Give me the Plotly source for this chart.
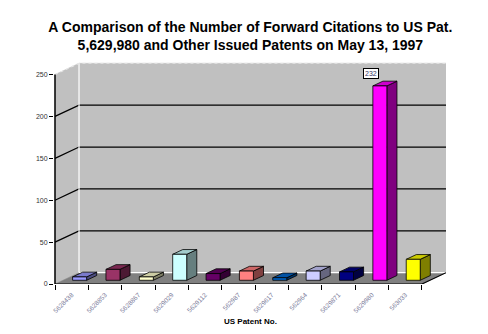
import plotly.graph_objects as go

# Forward citations per patent issued on May 13, 1997
patents = ["5628438", "5628853", "5628867", "5629029", "5629112", "562987",
           "5629617", "562964", "5629871", "5629980", "563033"]
citations = [4, 13, 4, 31, 8, 11, 3, 11, 10, 232, 25]
front_colors = ["#9999FF", "#993366", "#FFFFCC", "#CCFFFF", "#660066", "#FF8080",
                "#0066CC", "#CCCCFF", "#000080", "#FF00FF", "#FFFF00"]
y_ticks = [0, 50, 100, 150, 200, 250]

# oblique projection parameters (x in category units, y in value units)
DX, DY = 0.72, 13.5          # full depth of the floor / walls
Y_TOP = 250
N = len(patents)
BAR_W = 0.42                 # bar width in category units
BAR_F = 0.33                 # depth fraction where bar front sits
BAR_D = 0.42                 # bar depth fraction


def shade(hex_color, k):
    h = hex_color.lstrip("#")
    r, g, b = (int(h[i:i + 2], 16) for i in (0, 2, 4))
    return "rgb({},{},{})".format(int(r * k), int(g * k), int(b * k))


fig = go.Figure()


def poly(xs, ys, fill, line_color="black", width=0.8):
    fig.add_trace(go.Scatter(
        x=xs + [xs[0]], y=ys + [ys[0]], mode="lines", fill="toself",
        fillcolor=fill, line=dict(color=line_color, width=width),
        hoverinfo="skip", showlegend=False))


def seg(xs, ys, color, width=1.2, dash=None):
    fig.add_trace(go.Scatter(
        x=xs, y=ys, mode="lines", line=dict(color=color, width=width, dash=dash),
        hoverinfo="skip", showlegend=False))


# side wall, back wall and floor
poly([0, DX, DX, 0], [0, DY, Y_TOP + DY, Y_TOP], "#C0C0C0", "#C0C0C0", 0.5)
poly([DX, N + DX, N + DX, DX], [DY, DY, Y_TOP + DY, Y_TOP + DY], "#C0C0C0", "#C0C0C0", 0.5)
poly([0, N, N + DX, DX], [0, 0, DY, DY], "#808080", "#808080", 0.5)

# gridlines running across the side wall and the back wall
for v in y_ticks[1:-1]:
    seg([0, DX, N + DX], [v, v + DY, v + DY], "black", 1.3)

# wall edges
seg([DX, DX], [DY, Y_TOP + DY], "white", 1.2)
seg([DX, N + DX], [DY, DY], "white", 1.2)
seg([0, DX, N + DX], [Y_TOP, Y_TOP + DY, Y_TOP + DY], "#E6E6E6", 1.2, "dot")
seg([0, N, N + DX], [0, 0, DY], "black", 1.2)
seg([0, 0], [0, Y_TOP], "black", 1.5)

# 3-D bars: front face, right side, top
fx, fy = BAR_F * DX, BAR_F * DY
bx, by = BAR_D * DX, BAR_D * DY
for i, (v, c) in enumerate(zip(citations, front_colors)):
    x0 = i + 0.5 - BAR_W / 2 + fx
    x1 = x0 + BAR_W
    y0, y1 = fy, fy + v
    poly([x1, x1 + bx, x1 + bx, x1], [y0, y0 + by, y1 + by, y1], shade(c, 0.5))
    poly([x0, x1, x1 + bx, x0 + bx], [y1, y1, y1 + by, y1 + by], shade(c, 0.8))
    poly([x0, x1, x1, x0], [y0, y0, y1, y1], c)

# value label on the highlighted patent
hi = patents.index("5629980")
fig.add_annotation(
    x=hi + 0.5, y=citations[hi] + fy, text=str(citations[hi]), showarrow=False,
    yshift=12, xshift=-1, font=dict(size=7, color="#333366", family="Liberation Sans"),
    bgcolor="white", bordercolor="black", borderwidth=1, borderpad=1)

fig.add_annotation(
    x=0.5, y=-0.171, xref="paper", yref="paper", yanchor="middle",
    text="<b>US Patent No.</b>",
    showarrow=False, font=dict(size=8, color="black", family="Liberation Sans"))

fig.update_layout(
    width=488, height=334,
    margin=dict(l=54, r=42, t=62, b=50),
    paper_bgcolor="white", plot_bgcolor="white",
    title=dict(
        text="<b>A Comparison of the Number of Forward Citations to US Pat.<br>"
             "5,629,980 and Other Issued Patents on May 13, 1997</b>",
        x=0.513, xanchor="center", y=1 - 32 / 334, yanchor="middle",
        font=dict(size=14, color="black", family="Liberation Sans")),
    xaxis=dict(
        range=[-0.03, N + DX], showgrid=False, zeroline=False, showline=False,
        tickmode="array", tickvals=[i + 0.5 for i in range(N)], ticktext=patents,
        tickangle=-45, ticks="", ticklabelstandoff=5,
        tickfont=dict(size=6.5, color="#7A7A99", family="Liberation Sans"),
        minor=dict(tickmode="array", tickvals=list(range(N + 1)), ticks="outside",
                   ticklen=5, tickcolor="black", tickwidth=1),
        fixedrange=True),
    yaxis=dict(
        range=[0, 265], showgrid=False, zeroline=False, showline=False,
        tickmode="array", tickvals=y_ticks, ticks="outside", ticklen=4,
        tickcolor="black", tickwidth=1,
        tickfont=dict(size=7, color="#333333", family="Liberation Sans"),
        fixedrange=True),
)

fig.write_html("out.html")
